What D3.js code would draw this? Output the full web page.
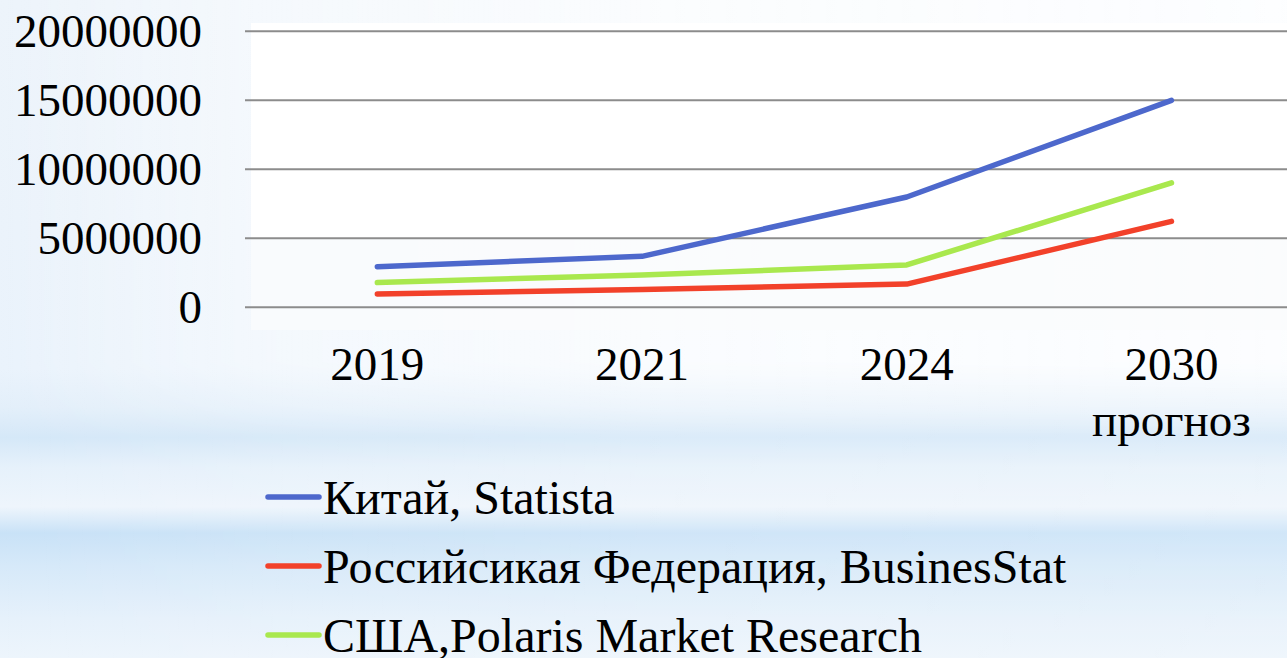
<!DOCTYPE html>
<html><head><meta charset="utf-8">
<script src="https://cdn.jsdelivr.net/npm/d3@7"></script>
<style>html,body{margin:0;padding:0;overflow:hidden;background:#fff}</style>
</head><body>
<svg id="chart" width="1287" height="658"></svg>
<script>
const categories = ["2019", "2021", "2024", "2030"];
const categorySub = ["", "", "", "прогноз"];
const seriesNames = ["Китай, Statista", "Российсикая Федерация, BusinesStat", "США,Polaris Market Research"];
const chinaValues = [2900000, 3650000, 7950000, 14950000];
const russiaValues = [920000, 1250000, 1640000, 6180000];
const usaValues = [1750000, 2290000, 3030000, 8970000];
const seriesColors = ["#4d68cc", "#f2412a", "#a9e84e"];
const yTicks = [0, 5000000, 10000000, 15000000, 20000000];

const series = [
  {name: seriesNames[0], values: chinaValues, color: seriesColors[0]},
  {name: seriesNames[1], values: russiaValues, color: seriesColors[1]},
  {name: seriesNames[2], values: usaValues, color: seriesColors[2]}
];
const drawOrder = [0, 2, 1];

const svg = d3.select("#chart");
const W = 1287, H = 658;
const font = "Liberation Serif";

const defs = svg.append("defs");
const bg = defs.append("linearGradient").attr("id", "bgv").attr("x1", 0).attr("y1", 0).attr("x2", 0).attr("y2", 1);
[[0, "#edf4fb"], [0.35, "#ebf3fb"], [0.56, "#eaf3fc"], [0.62, "#e3effa"], [0.665, "#d5e8f8"],
 [0.71, "#e6f1fb"], [0.77, "#eef5fc"], [0.81, "#c9e2f7"], [0.86, "#d6e9f9"], [0.94, "#e6f1fb"], [1, "#edf5fc"]]
 .forEach(([o, c]) => bg.append("stop").attr("offset", o).attr("stop-color", c));
const bh = defs.append("linearGradient").attr("id", "bgh").attr("x1", 0).attr("y1", 0).attr("x2", 1).attr("y2", 0);
[[0, 0], [0.2, 0.45], [0.5, 0.75], [1, 0.85]]
 .forEach(([o, a]) => bh.append("stop").attr("offset", o).attr("stop-color", "#ffffff").attr("stop-opacity", a));
const mv = defs.append("linearGradient").attr("id", "mv").attr("x1", 0).attr("y1", 0).attr("x2", 0).attr("y2", 1);
[[0, 1], [0.55, 1], [0.66, 0.2], [1, 0.15]]
 .forEach(([o, a]) => mv.append("stop").attr("offset", o).attr("stop-color", "#ffffff").attr("stop-opacity", a));
defs.append("mask").attr("id", "fade").append("rect").attr("width", W).attr("height", H).attr("fill", "url(#mv)");
svg.append("rect").attr("width", W).attr("height", H).attr("fill", "url(#bgv)");
svg.append("rect").attr("width", W).attr("height", H).attr("fill", "url(#bgh)").attr("mask", "url(#fade)");

const margin = {left: 245, top: 30.7, bottom: 306.7};
const x = d3.scaleBand().domain(categories).range([margin.left, margin.left + 4 * 264.7]).paddingInner(0).paddingOuter(0);
const y = d3.scaleLinear().domain([0, 20000000]).range([margin.bottom, margin.top]);

svg.append("rect").attr("x", 251).attr("y", 23).attr("width", W - 251).attr("height", 215)
  .attr("fill", "#ffffff").attr("opacity", 0.95);
svg.append("rect").attr("x", 251).attr("y", 238).attr("width", W - 251).attr("height", 92)
  .attr("fill", "#fafbfd").attr("opacity", 0.8);

const grid = svg.append("g").attr("transform", `translate(${margin.left},0)`)
  .call(d3.axisLeft(y).tickValues(yTicks).tickSize(-(W - margin.left)).tickFormat(""));
grid.select(".domain").remove();
grid.selectAll("line").attr("stroke", "#8c8c8c").attr("stroke-width", 2);

function styleText(sel, size) {
  sel.style("font-family", font).style("font-size", size + "px").attr("fill", "#000");
}

const yAxis = svg.append("g").attr("transform", `translate(202,0)`)
  .call(d3.axisLeft(y).tickValues(yTicks).tickSize(0).tickPadding(0).tickFormat(d3.format("d")));
yAxis.attr("font-family", null).attr("font-size", null);
yAxis.select(".domain").remove();
yAxis.selectAll("text").call(styleText, 47).attr("dy", "0.33em").attr("x", 0);

const xAxis = svg.append("g").attr("transform", `translate(0,${margin.bottom})`)
  .call(d3.axisBottom(x).tickSize(0).tickPadding(0));
xAxis.attr("font-family", null).attr("font-size", null);
xAxis.select(".domain").remove();
xAxis.selectAll("text").call(styleText, 47).attr("y", 73).attr("dy", 0);
xAxis.selectAll(".tick").append("text").text((d, i) => categorySub[i])
  .call(styleText, 47).attr("text-anchor", "middle").attr("y", 129);

const line = d3.line().x((d, i) => x(categories[i]) + x.bandwidth() / 2).y(d => y(d));
drawOrder.forEach(k => {
  const s = series[k];
  svg.append("path").datum(s.values).attr("d", line).attr("fill", "none")
    .attr("stroke", s.color).attr("stroke-width", 5.5).attr("stroke-linecap", "round").attr("stroke-linejoin", "round");
});

const legendRows = [497, 566, 635];
series.forEach((s, i) => {
  const g = svg.append("g").attr("transform", `translate(0,${legendRows[i]})`);
  g.append("line").attr("x1", 268).attr("x2", 319).attr("y1", 0).attr("y2", 0)
    .attr("stroke", s.color).attr("stroke-width", 5.5).attr("stroke-linecap", "round");
  g.append("text").attr("x", 323).attr("y", 17).text(s.name).call(styleText, 48);
});
</script>
</body></html>
